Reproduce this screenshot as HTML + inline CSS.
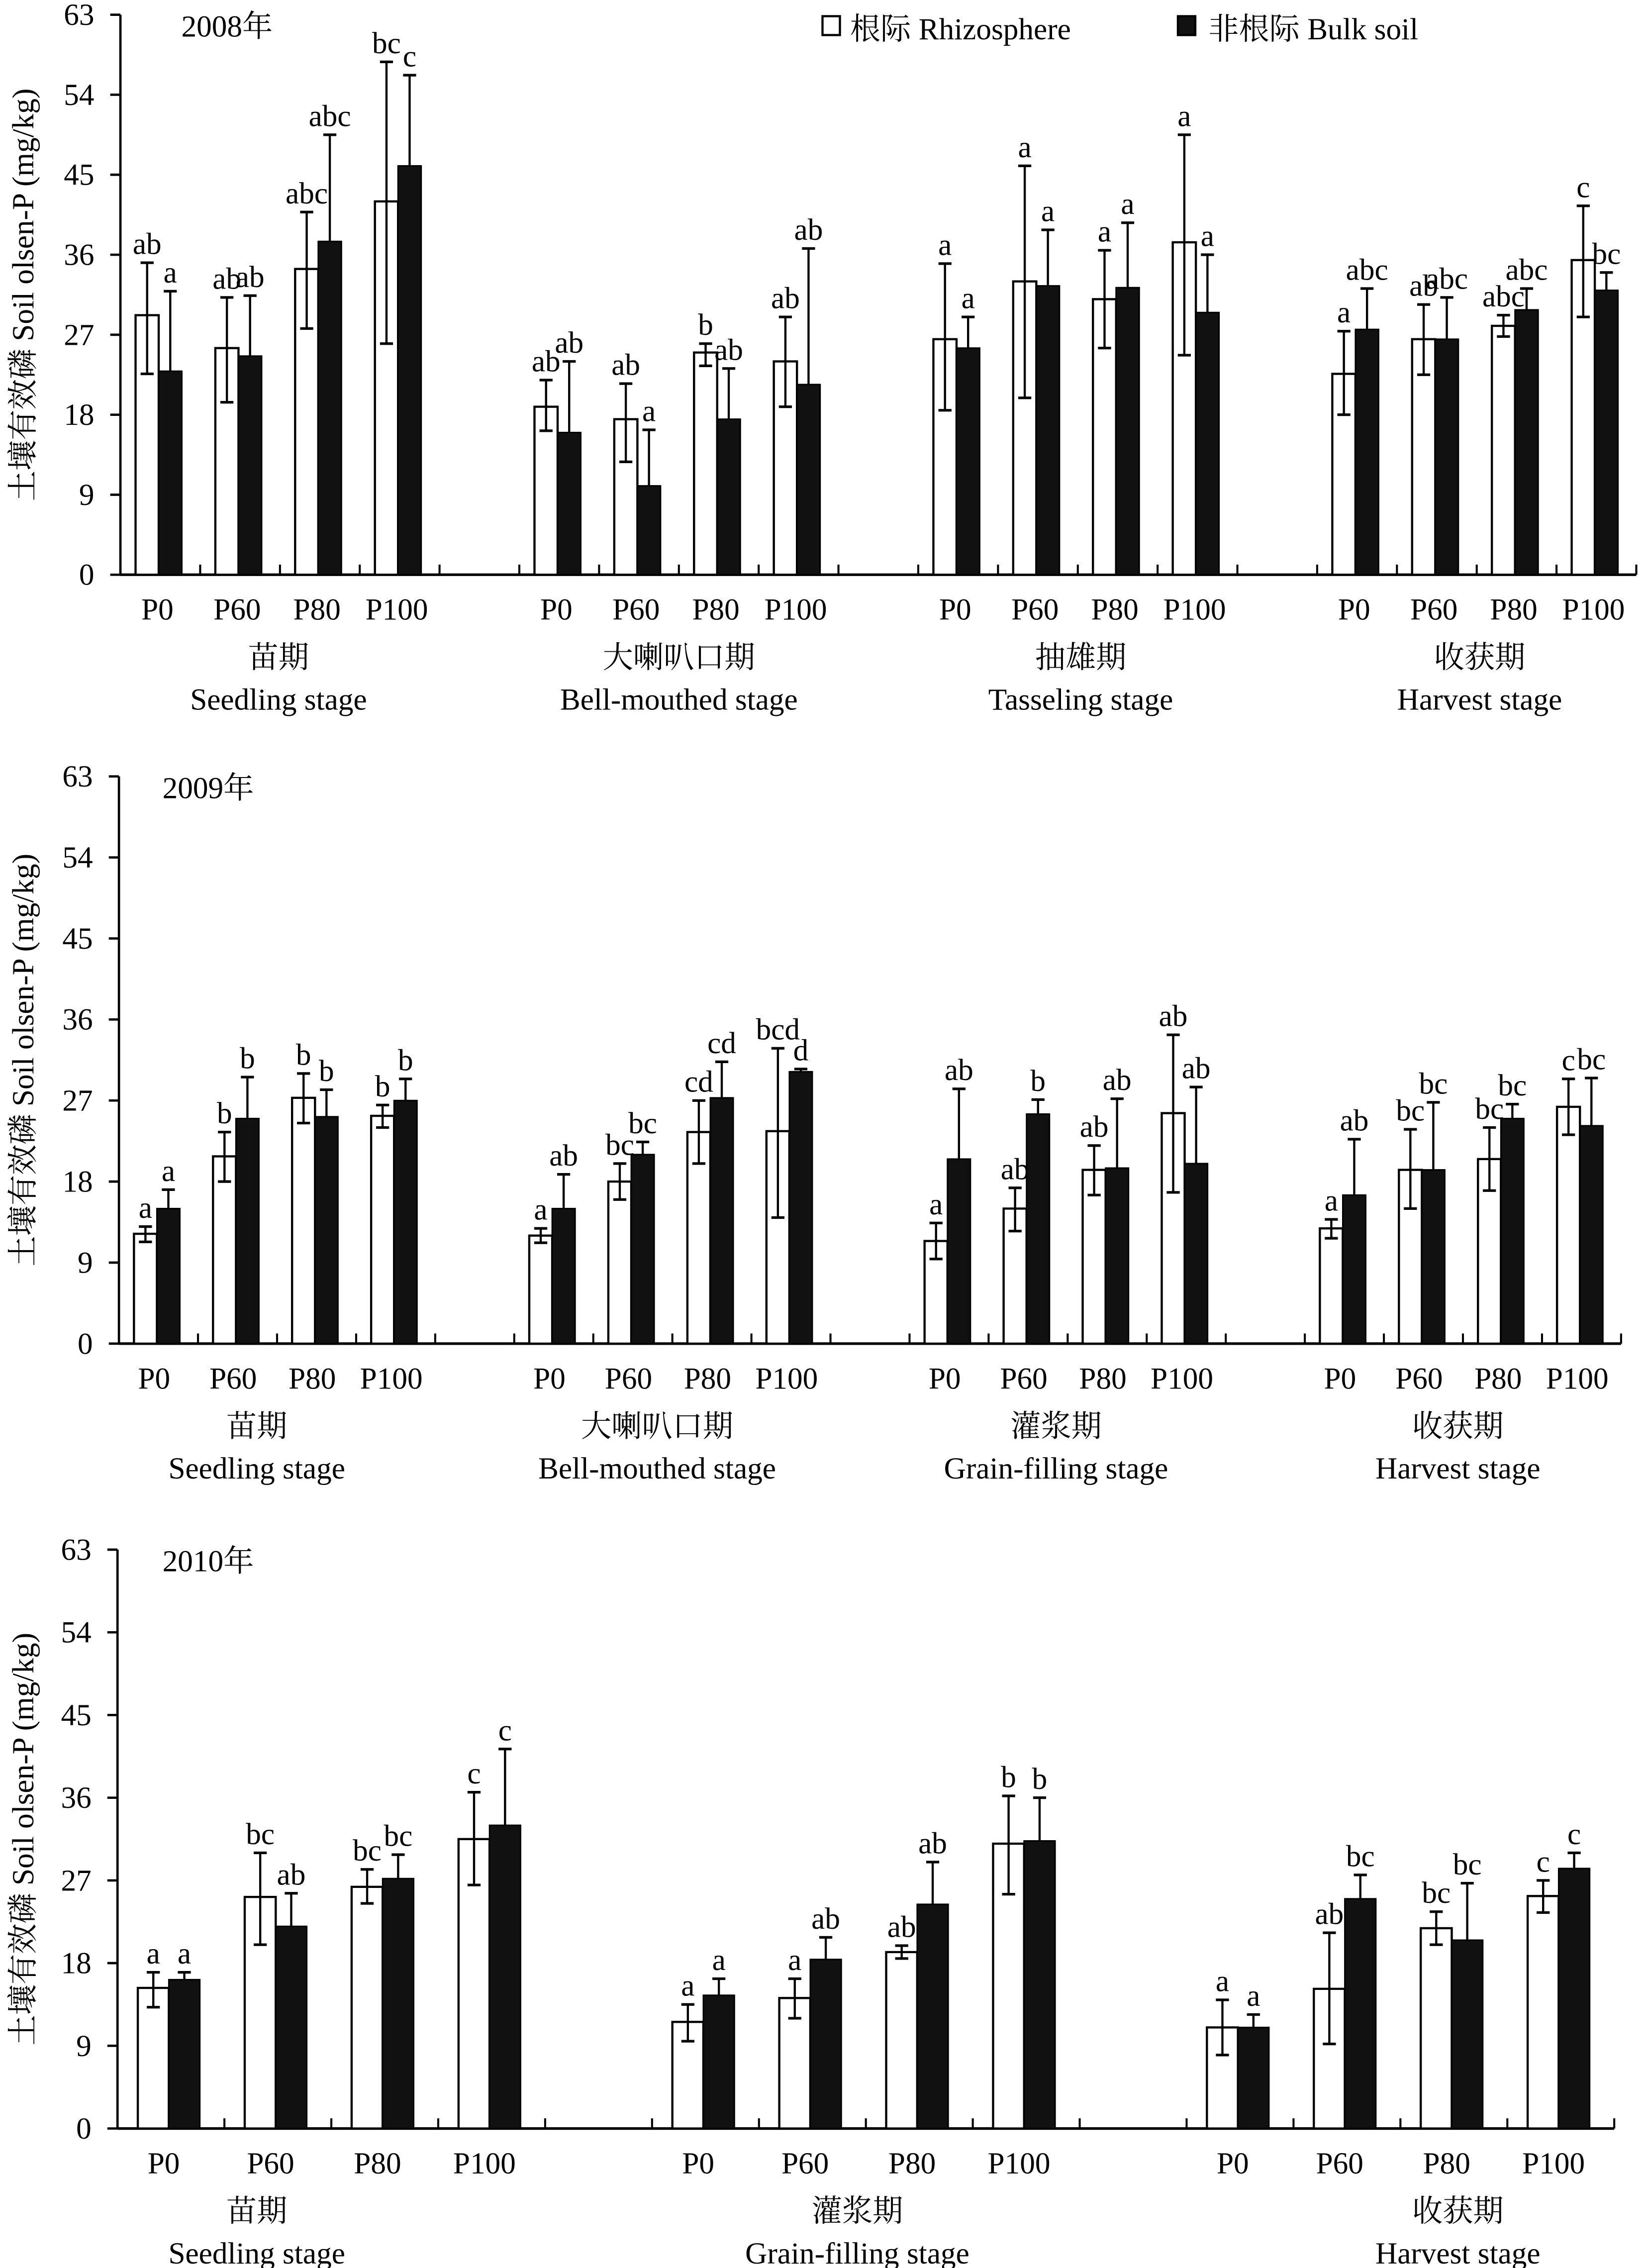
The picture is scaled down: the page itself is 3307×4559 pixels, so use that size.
<!DOCTYPE html>
<html><head><meta charset="utf-8"><style>
html,body{margin:0;padding:0;background:#fff}
svg{display:block}
text{font-family:"Liberation Serif","Noto Serif CJK SC","Noto Sans CJK SC",serif;fill:#000}
</style></head><body>
<svg id="chart" width="3307" height="4559" viewBox="0 0 1134 1563" xmlns="http://www.w3.org/2000/svg"></svg>
<script>
// ---- 2008 ----
const cats08 = ["P0","P60","P80","P100","P0","P60","P80","P100","P0","P60","P80","P100","P0","P60","P80","P100"];
const stagesCn08 = ["苗期","大喇叭口期","抽雄期","收获期"];
const stagesEn08 = ["Seedling stage","Bell-mouthed stage","Tasseling stage","Harvest stage"];
const rhizo08 = [29.2,25.5,34.4,42.0, 18.9,17.5,25.0,24.0, 26.5,33.0,31.0,37.4, 22.6,26.5,28.0,35.4];
const rhizoHi08 = [35.1,31.2,40.8,57.7, 21.9,21.5,26.0,29.0, 35.0,46.0,36.5,49.5, 27.4,30.4,29.2,41.5];
const rhizoLo08 = [22.6,19.4,27.7,26.0, 16.2,12.7,23.5,18.9, 18.5,19.9,25.5,24.7, 18.0,22.5,26.8,29.0];
const bulk08 = [22.9,24.6,37.5,46.0, 16.0,10.0,17.5,21.4, 25.5,32.5,32.3,29.5, 27.6,26.5,29.8,32.0];
const bulkHi08 = [31.9,31.4,49.5,56.2, 24.0,16.3,23.2,36.7, 29.0,38.8,39.6,36.0, 32.2,31.2,32.2,34.0];
const rLet08 = ["ab","ab","abc","bc","ab","ab","b","ab","a","a","a","a","a","ab","abc","c"];
const bLet08 = ["a","ab","abc","c","ab","a","ab","ab","a","a","a","a","abc","abc","abc","bc"];
// ---- 2009 ----
const cats09 = cats08.slice();
const stagesCn09 = ["苗期","大喇叭口期","灌浆期","收获期"];
const stagesEn09 = ["Seedling stage","Bell-mouthed stage","Grain-filling stage","Harvest stage"];
const rhizo09 = [12.2,20.8,27.3,25.3, 12.0,18.0,23.5,23.6, 11.4,15.0,19.3,25.6, 12.8,19.3,20.5,26.3];
const rhizoHi09 = [13.0,23.5,30.0,26.5, 12.8,20.0,27.0,32.8, 13.4,17.3,22.0,34.3, 13.8,23.8,24.0,29.4];
const rhizoLo09 = [11.3,18.0,24.5,24.0, 11.2,16.0,20.0,14.0, 9.4,12.5,16.5,16.8, 11.7,15.0,17.0,23.2];
const bulk09 = [15.0,25.0,25.2,27.0, 15.0,21.0,27.3,30.2, 20.5,25.5,19.5,20.0, 16.5,19.3,25.0,24.2];
const bulkHi09 = [17.1,29.6,28.2,29.4, 18.8,22.4,31.3,30.5, 28.3,27.1,27.2,28.5, 22.7,26.8,26.6,29.5];
const rLet09 = ["a","b","b","b","a","bc","cd","bcd","a","ab","ab","ab","a","bc","bc","c"];
const bLet09 = ["a","b","b","b","ab","bc","cd","d","ab","b","ab","ab","ab","bc","bc","bc"];
// ---- 2010 ----
const cats10 = ["P0","P60","P80","P100","P0","P60","P80","P100","P0","P60","P80","P100"];
const stagesCn10 = ["苗期","灌浆期","收获期"];
const stagesEn10 = ["Seedling stage","Grain-filling stage","Harvest stage"];
const rhizo10 = [15.3,25.2,26.3,31.5, 11.6,14.2,19.2,31.0, 11.0,15.2,21.8,25.3];
const rhizoHi10 = [17.0,30.0,28.2,36.6, 13.5,16.3,19.9,36.2, 14.0,21.3,23.6,27.0];
const rhizoLo10 = [13.2,20.0,24.5,26.5, 9.5,12.0,18.5,25.5, 8.0,9.2,20.0,23.5];
const bulk10 = [16.2,22.0,27.2,33.0, 14.5,18.4,24.4,31.3, 11.0,25.0,20.5,28.3];
const bulkHi10 = [17.0,25.6,29.8,41.3, 16.3,20.8,29.0,36.0, 12.4,27.6,26.7,30.0];
const rLet10 = ["a","bc","bc","c","a","a","ab","b","a","ab","bc","c"];
const bLet10 = ["a","ab","bc","c","a","ab","ab","b","a","bc","bc","c"];
const yTicks = [0,9,18,27,36,45,54,63];

const NS = "http://www.w3.org/2000/svg";
const svg = document.getElementById("chart");
function mk(tag, attrs, parent){
  const e = document.createElementNS(NS, tag);
  for (const k in attrs) e.setAttribute(k, attrs[k]);
  (parent||svg).appendChild(e);
  return e;
}
function txt(s, x, y, size, anchor, parent){
  const t = mk("text", {x:x, y:y, "font-size":size, "text-anchor":anchor||"middle"}, parent);
  t.textContent = s;
  return t;
}

function panel(cfg){
  const g = mk("g", {});
  
  
  const ax = cfg.axisX, w = cfg.catW;
  const yS = v => cfg.y0 - v * (cfg.y0 - cfg.y63) / 63;
  const xEnd = ax + cfg.nCats * w;
  const yAxis = mk("line", {x1:ax, y1:cfg.y63, x2:ax, y2:cfg.y0, stroke:"#000", "stroke-width":1.6}, g);
  
  
  yTicks.forEach(v => {
    mk("line", {x1:ax-7, y1:yS(v), x2:ax, y2:yS(v), stroke:"#000", "stroke-width":1.6}, g);
    const t = txt(String(v), ax-18, yS(v)+7, 21, "end", g);
    
    
  });
  const yt = txt("土壤有效磷 Soil olsen-P (mg/kg)", 0, 0, 21, "middle", g);
  yt.setAttribute("transform", `translate(23,${(cfg.y0+cfg.y63)/2}) rotate(-90)`);
  
  
  const xAxis = mk("line", {x1:ax, y1:cfg.y0, x2:xEnd, y2:cfg.y0, stroke:"#000", "stroke-width":1.8}, g);
  
  
  for (let i=1;i<=cfg.nCats;i++){
    mk("line", {x1:ax+i*w, y1:cfg.y0, x2:ax+i*w, y2:cfg.y0-7, stroke:"#000", "stroke-width":1.4}, g);
  }
  const yr = txt(cfg.year, cfg.yearX, cfg.y63+15, 21, "start", g);
  
  
  cfg.cats.forEach((c, i) => {
    const grp = Math.floor(i/4), k = i%4;
    const ci = cfg.starts[grp] + k;
    const x0 = ax + ci*w;
    const bw = 0.29*w;
    const xw = x0 + 0.19*w, xb = xw + bw;
    const rv = cfg.rhizo[i];
    const rb = mk("rect", {x:xw, y:yS(rv), width:bw, height:yS(0)-yS(rv), fill:"#fff", stroke:"#000", "stroke-width":1.5}, g);
    
    
    const cxw = xw + bw/2, cap = 4.5;
    const hi = yS(cfg.rhizoHi[i]), lo = yS(cfg.rhizoLo[i]);
    mk("line", {x1:cxw, y1:hi, x2:cxw, y2:lo, stroke:"#000", "stroke-width":1.5}, g);
    mk("line", {x1:cxw-cap, y1:hi, x2:cxw+cap, y2:hi, stroke:"#000", "stroke-width":1.8}, g);
    mk("line", {x1:cxw-cap, y1:lo, x2:cxw+cap, y2:lo, stroke:"#000", "stroke-width":1.8}, g);
    const rl = txt(cfg.rLet[i], cxw, hi-6, 21, "middle", g);
    
    
    const bv = cfg.bulk[i];
    const bb = mk("rect", {x:xb, y:yS(bv), width:bw, height:yS(0)-yS(bv), fill:"#111", stroke:"#000", "stroke-width":1}, g);
    
    
    const cxb = xb + bw/2;
    const bhi = yS(cfg.bulkHi[i]);
    mk("line", {x1:cxb, y1:bhi, x2:cxb, y2:yS(bv), stroke:"#000", "stroke-width":1.5}, g);
    mk("line", {x1:cxb-cap, y1:bhi, x2:cxb+cap, y2:bhi, stroke:"#000", "stroke-width":1.8}, g);
    const bl = txt(cfg.bLet[i], cxb, bhi-6, 21, "middle", g);
    
    
    const cl = txt(c, x0 + w/2 + cfg.labelShift, cfg.y0+31, 21, "middle", g);
    
    
  });
  cfg.stagesCn.forEach((s, gi) => {
    const cx = cfg.stageX[gi];
    const a = txt(s, cx, cfg.y0+64, 21, "middle", g);
    
    
    const b = txt(cfg.stagesEn[gi], cx, cfg.y0+93, 21, "middle", g);
    
    
  });
}

panel({name:"panel-2008", year:"2008年", yearX:125, axisX:83, catW:55, nCats:19, starts:[0,5,10,15], y0:396, y63:10, labelShift:-2,
  stageX:[192,468,745,1020],
  cats:cats08, stagesCn:stagesCn08, stagesEn:stagesEn08, rhizo:rhizo08, rhizoHi:rhizoHi08, rhizoLo:rhizoLo08, bulk:bulk08, bulkHi:bulkHi08, rLet:rLet08, bLet:bLet08});
panel({name:"panel-2009", year:"2009年", yearX:112, axisX:82, catW:54.5, nCats:19, starts:[0,5,10,15], y0:926, y63:535, labelShift:-3,
  stageX:[177,453,728,1005],
  cats:cats09, stagesCn:stagesCn09, stagesEn:stagesEn09, rhizo:rhizo09, rhizoHi:rhizoHi09, rhizoLo:rhizoLo09, bulk:bulk09, bulkHi:bulkHi09, rLet:rLet09, bLet:bLet09});
panel({name:"panel-2010", year:"2010年", yearX:112, axisX:81, catW:73.7, nCats:14, starts:[0,5,10], y0:1467, y63:1068, labelShift:-5,
  stageX:[177,591,1005],
  cats:cats10, stagesCn:stagesCn10, stagesEn:stagesEn10, rhizo:rhizo10, rhizoHi:rhizoHi10, rhizoLo:rhizoLo10, bulk:bulk10, bulkHi:bulkHi10, rLet:rLet10, bLet:bLet10});

const lg = mk("g", {});


const l1 = mk("rect", {x:567, y:11, width:12, height:13, fill:"#fff", stroke:"#000", "stroke-width":1.5}, lg);


const lt1 = txt("根际 Rhizosphere", 586, 27, 21, "start", lg);


const l2 = mk("rect", {x:812, y:11, width:12, height:13, fill:"#111", stroke:"#000", "stroke-width":1.5}, lg);


const lt2 = txt("非根际 Bulk soil", 833, 27, 21, "start", lg);


</script>
</body></html>
